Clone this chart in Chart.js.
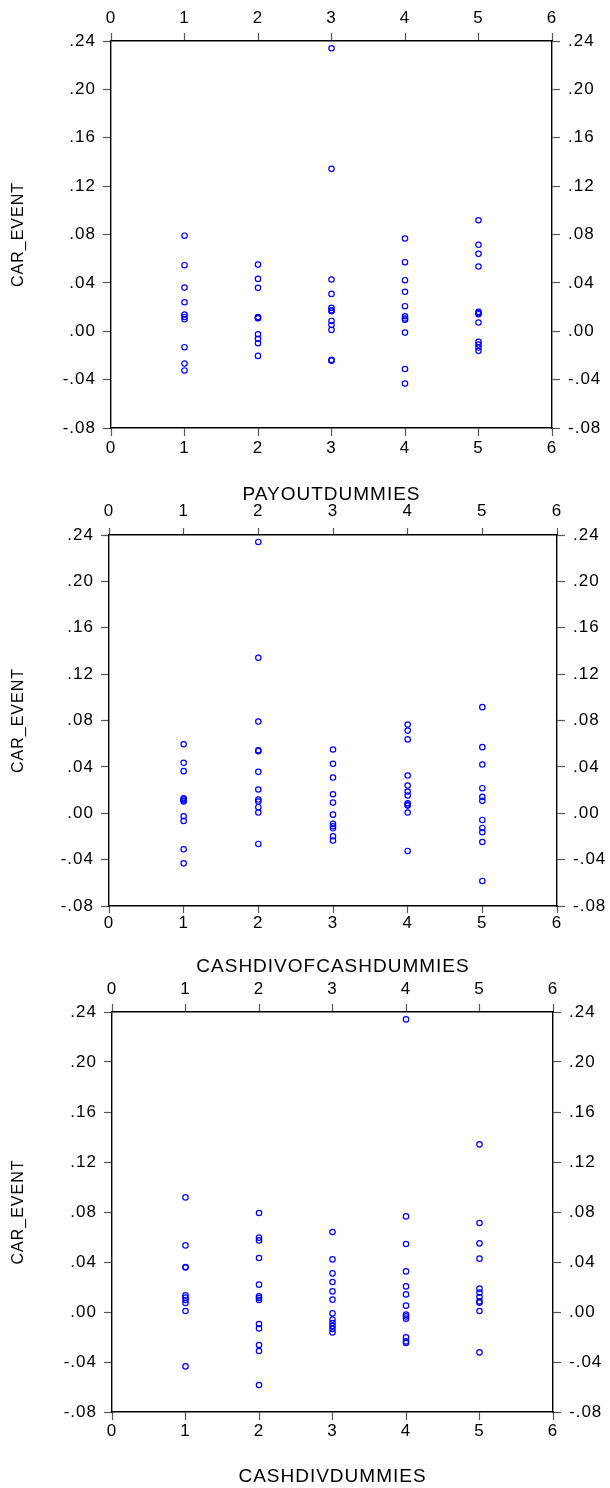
<!DOCTYPE html>
<html>
<head>
<meta charset="utf-8">
<script src="https://cdn.jsdelivr.net/npm/chart.js@4.4.1/dist/chart.umd.min.js"></script>
<style>
  html, body { margin: 0; padding: 0; background: #fff; }
  body { width: 610px; height: 1488px; position: relative; overflow: hidden; }
  canvas { position: absolute; left: 0; }
</style>
</head>
<body>
<canvas id="payoutChart"></canvas>
<canvas id="cashOfCashChart"></canvas>
<canvas id="cashDivChart"></canvas>
<script>
const categories = [1, 2, 3, 4, 5];
const xTicks = [0, 1, 2, 3, 4, 5, 6];
const yTicks = [-0.08, -0.04, 0, 0.04, 0.08, 0.12, 0.16, 0.20, 0.24];
const yTitle = 'CAR_EVENT';

// CAR_EVENT values, one list per dummy value 1..5
const payoutCar = [
    [0.079, 0.0546, 0.0361, 0.024, 0.0138, 0.0118, 0.0099, -0.0132, -0.0267, -0.0324],
    [0.0551, 0.0433, 0.0359, 0.0118, 0.011, 0.0107, -0.0025, -0.0063, -0.0099, -0.0204],
    [0.234, 0.1343, 0.0428, 0.0309, 0.0193, 0.0174, 0.0165, 0.0085, 0.0052, 0.0011, -0.0237, -0.0243],
    [0.0767, 0.0571, 0.0422, 0.0326, 0.0207, 0.0124, 0.0105, 0.0096, -0.0011, -0.0312, -0.0433],
    [0.0918, 0.0715, 0.064, 0.0535, 0.016, 0.0149, 0.0141, 0.0072, -0.0088, -0.011, -0.0135, -0.0162]
];
const cashOfCashCar = [
    [0.0595, 0.0435, 0.0363, 0.013, 0.0121, 0.011, 0.0101, -0.0026, -0.0066, -0.0311, -0.0432],
    [0.234, 0.1341, 0.0791, 0.0544, 0.0535, 0.0357, 0.0205, 0.0118, 0.0101, 0.0052, 0.0006, -0.0265],
    [0.055, 0.0426, 0.0308, 0.0164, 0.0092, -0.0012, -0.0092, -0.0112, -0.013, -0.0199, -0.0236],
    [0.0765, 0.0713, 0.0637, 0.0325, 0.0239, 0.0187, 0.0153, 0.0086, 0.0075, 0.0066, 0.0006, -0.0325],
    [0.0915, 0.057, 0.042, 0.0216, 0.0141, 0.0107, -0.0058, -0.0127, -0.0164, -0.0248, -0.0584]
];
const cashDivCar = [
    [0.0917, 0.0533, 0.036, 0.0356, 0.0133, 0.0115, 0.0096, 0.0072, 0.0008, -0.0435],
    [0.0792, 0.0595, 0.0573, 0.0432, 0.0219, 0.0125, 0.0112, 0.0096, -0.0096, -0.0131, -0.0264, -0.0312, -0.0584],
    [0.064, 0.0421, 0.0309, 0.024, 0.0165, 0.0099, -0.0011, -0.0061, -0.0088, -0.0112, -0.0136, -0.0163],
    [0.2341, 0.0765, 0.0544, 0.0325, 0.0205, 0.0141, 0.0051, -0.0021, -0.0035, -0.0053, -0.0203, -0.0235, -0.0248],
    [0.1341, 0.0712, 0.0549, 0.0427, 0.0187, 0.0155, 0.012, 0.0085, 0.0075, 0.0008, -0.0323]
];

const FONT = '"Liberation Sans", Arial, sans-serif';
const W = 610;

// the reference text is a little wide, so space the letters out a bit
const spacing = {
    id: 'spacing',
    beforeDraw(chart) {
        chart.ctx.letterSpacing = '1px';
    }
};

function formatY(v) {
    const s = Math.abs(v).toFixed(2).replace(/^0/, '');
    return (v < -1e-9 ? '-' : '') + s;
}

function makePanel(p) {
    const canvas = document.getElementById(p.id);
    canvas.width = W;
    canvas.height = p.height;
    canvas.style.top = p.top + 'px';

    const points = [];
    categories.forEach((c, i) => {
        p.values[i].forEach(v => points.push({ x: c, y: v }));
    });

    const box = {
        left: p.plotLeft,
        right: W - p.plotRight,
        top: p.plotTop - p.top,
        bottom: p.top + p.height - p.plotBottom
    };

    const grid = (len) => ({
        drawOnChartArea: false,
        drawTicks: true,
        tickLength: len,
        tickColor: '#555',
        tickWidth: 1.2,
        color: '#555'
    });
    const border = { display: true, color: '#000', width: 1.4 };

    function xScale(position, pad, size) {
        return {
            type: 'linear',
            position: position,
            min: 0,
            max: 6,
            grid: grid(p.xTickLen),
            border: border,
            afterBuildTicks: s => { s.ticks = xTicks.map(v => ({ value: v })); },
            afterFit: s => { s.height = size; },
            ticks: {
                autoSkip: false,
                maxRotation: 0,
                minRotation: 0,
                padding: pad,
                color: '#000',
                font: { family: FONT, size: 17 },
                callback: v => String(v)
            },
            title: position === 'bottom' ? {
                display: true,
                text: p.title,
                color: '#000',
                padding: 0,
                font: { family: FONT, size: 19 }
            } : { display: false }
        };
    }

    function yScale(position, pad, size) {
        return {
            type: 'linear',
            position: position,
            min: -0.08,
            max: 0.24,
            grid: grid(8),
            border: border,
            afterBuildTicks: s => { s.ticks = yTicks.map(v => ({ value: v })); },
            afterFit: s => { s.width = size; },
            ticks: {
                padding: pad,
                color: '#000',
                font: { family: FONT, size: 17 },
                callback: v => formatY(v)
            },
            title: position === 'left' ? {
                display: true,
                text: yTitle,
                color: '#000',
                padding: { top: 9, bottom: 0 },
                font: { family: FONT, size: 16 }
            } : { display: false }
        };
    }

    new Chart(canvas, {
        type: 'scatter',
        data: {
            datasets: [{
                data: points,
                borderColor: '#0000ff',
                backgroundColor: 'rgba(0,0,0,0)',
                pointRadius: 2.7,
                borderWidth: 1.2
            }]
        },
        options: {
            responsive: false,
            animation: false,
            events: [],
            layout: { padding: 0 },
            plugins: {
                legend: { display: false },
                tooltip: { enabled: false }
            },
            scales: {
                x: xScale('bottom', p.padBottom, box.bottom),
                x2: xScale('top', p.padTop, box.top),
                y: yScale('left', 7, box.left),
                y2: yScale('right', 8, box.right)
            }
        },
        plugins: [spacing]
    });
}

makePanel({
    id: 'payoutChart', title: 'PAYOUTDUMMIES', values: payoutCar,
    top: 0, height: 506,
    plotLeft: 111, plotRight: 552, plotTop: 41, plotBottom: 428,
    xTickLen: 8, padTop: 4, padBottom: 2
});
makePanel({
    id: 'cashOfCashChart', title: 'CASHDIVOFCASHDUMMIES', values: cashOfCashCar,
    top: 498, height: 480,
    plotLeft: 109, plotRight: 557, plotTop: 535, plotBottom: 906,
    xTickLen: 7, padTop: 6, padBottom: 0
});
makePanel({
    id: 'cashDivChart', title: 'CASHDIVDUMMIES', values: cashDivCar,
    top: 970, height: 518,
    plotLeft: 112, plotRight: 553, plotTop: 1012, plotBottom: 1412,
    xTickLen: 8, padTop: 4, padBottom: 1
});
</script>
</body>
</html>
